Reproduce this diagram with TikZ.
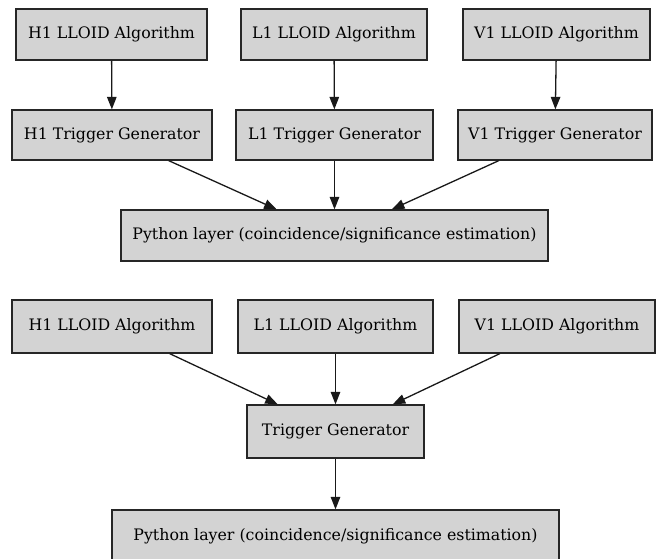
\documentclass[tikz,border=0pt]{standalone}
\usepackage{fontspec}
\setmainfont{DejaVu Serif}
\usetikzlibrary{arrows.meta}
\definecolor{boxfill}{HTML}{D3D3D3}
\definecolor{boxline}{HTML}{262626}
\tikzset{
  stage/.style={draw=boxline, line width=1.3pt, fill=boxfill, inner sep=0pt,
    font=\fontsize{15.8pt}{18pt}\selectfont, text=black},
  flow/.style={draw=black!90, line width=1.3pt,
    -{Triangle[length=12.5pt,width=9.5pt]}}
}
\begin{document}
\begin{tikzpicture}[x=1pt,y=-1pt]
\useasboundingbox (0,0) rectangle (657,558);

% upper pipeline: one trigger generator per detector
\node[stage, minimum width=191, minimum height=51] (h1a) at (111.5,34.5) {H1 LLOID Algorithm};
\node[stage, minimum width=186, minimum height=51] (l1a) at (334,34.5) {L1 LLOID Algorithm};
\node[stage, minimum width=187, minimum height=51] (v1a) at (556.5,34.5) {V1 LLOID Algorithm};
\node[stage, minimum width=200, minimum height=50] (h1t) at (112,135) {H1 Trigger Generator};
\node[stage, minimum width=197, minimum height=50] (l1t) at (334.5,135) {L1 Trigger Generator};
\node[stage, minimum width=194, minimum height=50] (v1t) at (555,135) {V1 Trigger Generator};
\node[stage, minimum width=427, minimum height=51] (py1) at (334.5,235.5) {Python layer (coincidence/significance estimation)};

\draw[flow] (h1a) -- (h1t);
\draw[flow] (l1a) -- (l1t);
\draw[flow] (v1a) -- (v1t);
\draw[flow] (h1t) -- (py1);
\draw[flow] (l1t) -- (py1);
\draw[flow] (v1t) -- (py1);

% lower pipeline: a single shared trigger generator
\node[stage, minimum width=200, minimum height=53] (h1b) at (112,326.5) {H1 LLOID Algorithm};
\node[stage, minimum width=195, minimum height=53] (l1b) at (335.5,326.5) {L1 LLOID Algorithm};
\node[stage, minimum width=196, minimum height=53] (v1b) at (557,326.5) {V1 LLOID Algorithm};
\node[stage, minimum width=177, minimum height=53] (tg) at (335.5,431.5) {Trigger Generator};
\node[stage, minimum width=447, minimum height=52] (py2) at (335.5,536) {Python layer (coincidence/significance estimation)};

\draw[flow] (h1b) -- (tg);
\draw[flow] (l1b) -- (tg);
\draw[flow] (v1b) -- (tg);
\draw[flow] (tg) -- (py2);
\end{tikzpicture}
\end{document}
